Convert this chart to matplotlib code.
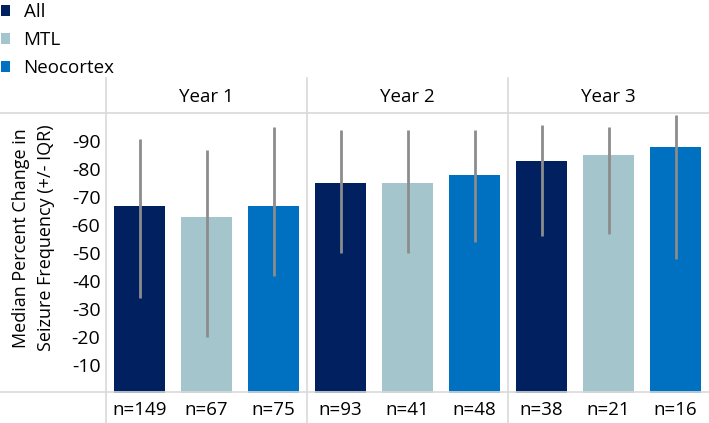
import matplotlib.pyplot as plt
import matplotlib.transforms as mtransforms
from matplotlib.lines import Line2D
import numpy as np

plt.rcParams['font.family'] = ['Open Sans', 'DejaVu Sans']

# data (percent change, negative = reduction)
years = ["Year 1", "Year 2", "Year 3"]
groups = ["All", "MTL", "Neocortex"]
colors = ["#002060", "#A5C5CC", "#0070C0"]
medians = [[-67, -63, -67], [-75, -75, -78], [-83, -85, -88]]
iqr_low = [[-34, -20, -42], [-50, -50, -54], [-56, -57, -48]]
iqr_high = [[-91, -87, -95], [-94, -94, -94], [-96, -95, -99.5]]
n_counts = [[149, 67, 75], [93, 41, 48], [38, 21, 16]]
yticks = [-10, -20, -30, -40, -50, -60, -70, -80, -90]

W, H = 709, 423
fig = plt.figure(figsize=(W / 100, H / 100), dpi=100)
y0, y100 = 393, 113.5
ax = fig.add_axes([106 / W, 1 - y0 / H, 603 / W, (y0 - y100) / H])

width = 0.75
for g in range(3):
    xs = np.arange(3) * 3 + g
    vals = [medians[y][g] for y in range(3)]
    ax.bar(xs, vals, width=width, color=colors[g], label=groups[g], zorder=2)
    lo = [iqr_low[y][g] for y in range(3)]
    hi = [iqr_high[y][g] for y in range(3)]
    ax.vlines(xs, lo, hi, color="#8c8c8c", lw=2, zorder=3)

ax.set_xlim(-0.5, 8.5)
ax.set_ylim(0, -100)
ax.set_yticks(yticks)
ax.set_yticklabels([str(t) for t in yticks], fontsize=14)
ax.tick_params(axis='y', length=0, pad=4)
ax.set_xticks([])
for s in ax.spines.values():
    s.set_visible(False)

fig.text(34 / W, 1 - 238 / H, "Median Percent Change in\nSeizure Frequency (+/- IQR)",
         rotation=90, ha='center', va='center', fontsize=13, linespacing=1.5)

grid_c = "#d9d9d9"
# horizontal rules
for yy in (y100, y0 - 1):
    fig.add_artist(Line2D([0, 1], [1 - yy / H] * 2, color=grid_c, lw=1.2))
trans = mtransforms.blended_transform_factory(ax.transData, fig.transFigure)
for xv in (-0.5, 2.5, 5.5):
    ax.add_line(Line2D([xv, xv], [0, 1 - 78 / H], color=grid_c, lw=1.2,
                       transform=trans, clip_on=False))

for i, yr in enumerate(years):
    ax.text(i * 3 + 1, 1 - 97 / H, yr, transform=trans, ha='center', va='center',
            fontsize=13.5)
    for g in range(3):
        ax.text(i * 3 + g, 1 - 410 / H, "n=%d" % n_counts[i][g], transform=trans,
                ha='center', va='center', fontsize=13.5)

fig.legend(loc='upper left', bbox_to_anchor=(-0.009, 1.011), frameon=False,
           fontsize=13.5, handlelength=0.5, handleheight=0.5, handletextpad=0.7,
           labelspacing=0.55, borderaxespad=0)

fig.savefig("out.png", dpi=100)
